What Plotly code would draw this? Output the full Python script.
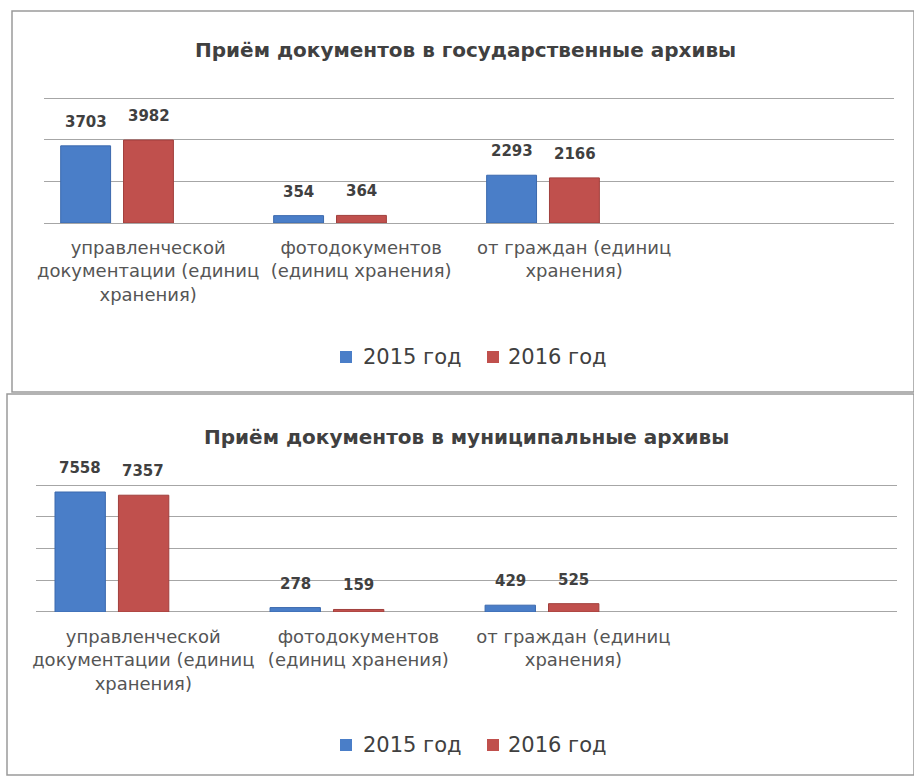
import plotly.graph_objects as go

# ---------------------------------------------------------------
# Dati
# ---------------------------------------------------------------
categories = [
    "управленческой<br>документации (единиц<br>хранения)",
    "фотодокументов<br>(единиц хранения)",
    "от граждан (единиц<br>хранения)",
]
series_names = ["2015 год", "2016 год"]

state_2015 = [3703, 354, 2293]
state_2016 = [3982, 364, 2166]

municipal_2015 = [7558, 278, 429]
municipal_2016 = [7357, 159, 525]

titles = [
    "Приём документов в государственные архивы",
    "Приём документов в муниципальные архивы",
]

BLUE = "#4A7EC8"
BLUE_EDGE = "#3B69AD"
RED = "#C0504D"
RED_EDGE = "#A13F3C"
TEXT = "#404040"
FONT = "DejaVu Sans"

W, H = 914, 777


def py(y):
    # pixel (dall'alto) -> coordinata paper
    return 1 - y / H


def px(x):
    return x / W


fig = go.Figure()

# la scala verticale: 2000 unità ~ 41.7 px (sopra), ~ 31.9 px (sotto);
# l'intervallo va un po' oltre l'ultima griglia perché venga disegnata
panels = [
    dict(v15=state_2015, v16=state_2016, xa="x", ya="y",
         xdom=[px(44), px(894)], ydom=[py(223), py(223 - 125 * 6600 / 6000)],
         xr=[-0.343, 3.648], yr=[0, 6600], title=(465, 50), legend_y=357,
         box=(12, 11, 914, 392)),
    dict(v15=municipal_2015, v16=municipal_2016, xa="x2", ya="y2",
         xdom=[px(36), px(897)], ydom=[py(612), py(612 - 127 * 8600 / 8000)],
         xr=[-0.353, 3.651], yr=[0, 8600], title=(467, 437), legend_y=745,
         box=(7, 394, 914, 775)),
]

xpos = list(range(len(categories)))

for i, p in enumerate(panels):
    for name, vals, color, edge in [(series_names[0], p["v15"], BLUE, BLUE_EDGE),
                                    (series_names[1], p["v16"], RED, RED_EDGE)]:
        fig.add_trace(go.Bar(
            x=xpos, y=vals, name=name,
            marker=dict(color=color, line=dict(color=edge, width=1)),
            xaxis=p["xa"], yaxis=p["ya"], showlegend=False,
        ))
        # etichette dei valori sopra le barre
        shift = -31.5 if name == series_names[0] else 31.5
        for xi, v in zip(xpos, vals):
            fig.add_annotation(
                x=xi, y=v, xref=p["xa"], yref=p["ya"],
                text=f"<b>{v}</b>", showarrow=False,
                xshift=shift, yshift=24, yanchor="middle",
                font=dict(family=FONT, size=15, color=TEXT),
            )

    # titolo
    tx, ty = p["title"]
    fig.add_annotation(
        x=px(tx), y=py(ty), xref="paper", yref="paper",
        text=f"<b>{titles[i]}</b>", showarrow=False,
        xanchor="center", yanchor="middle",
        font=dict(family=FONT, size=20, color=TEXT),
    )

    # legenda manuale
    for (name, color, mx, tx_) in [(series_names[0], BLUE, 340, 361),
                                   (series_names[1], RED, 487, 506)]:
        fig.add_shape(
            type="rect", xref="paper", yref="paper",
            x0=px(mx), x1=px(mx + 12),
            y0=py(p["legend_y"] + 6), y1=py(p["legend_y"] - 6),
            fillcolor=color, line=dict(width=0),
        )
        fig.add_annotation(
            x=px(tx_), y=py(p["legend_y"]), xref="paper", yref="paper",
            text=name, showarrow=False, xanchor="left", yanchor="middle",
            font=dict(family=FONT, size=21, color=TEXT),
        )

    # riquadro del grafico
    bx0, by0, bx1, by1 = p["box"]
    fig.add_shape(
        type="rect", xref="paper", yref="paper",
        x0=px(bx0), x1=px(bx1), y0=py(by1), y1=py(by0),
        line=dict(color="#9A9A9A", width=1.5), layer="below",
    )

axis_common = dict(
    tickmode="array", tickvals=[x + 0.146 for x in xpos], ticktext=categories,
    showgrid=False, zeroline=False, showline=False, ticks="",
    tickfont=dict(family=FONT, size=18, color="#555555"),
    ticklabelstandoff=12, fixedrange=True, automargin=False,
)
yaxis_common = dict(
    showgrid=True, gridcolor="#A6A6A6", gridwidth=1,
    showticklabels=False, zeroline=True, zerolinecolor="#A6A6A6",
    zerolinewidth=1, fixedrange=True, tick0=0, automargin=False,
)

fig.update_layout(
    width=W, height=H,
    margin=dict(l=0, r=0, t=0, b=0, autoexpand=False),
    paper_bgcolor="white", plot_bgcolor="white",
    barmode="group", bargap=0.41, bargroupgap=0.206,
    showlegend=False,
    xaxis=dict(domain=panels[0]["xdom"], range=panels[0]["xr"], anchor="y", **axis_common),
    yaxis=dict(domain=panels[0]["ydom"], range=panels[0]["yr"], dtick=2000, anchor="x", **yaxis_common),
    xaxis2=dict(domain=panels[1]["xdom"], range=panels[1]["xr"], anchor="y2", **axis_common),
    yaxis2=dict(domain=panels[1]["ydom"], range=panels[1]["yr"], dtick=2000, anchor="x2", **yaxis_common),
)

# niente margine del body, così la figura occupa esattamente la finestra
fig.write_html(
    "out.html",
    config={"displayModeBar": False},
    post_script="document.body.style.margin='0';document.body.style.overflow='hidden';",
)
